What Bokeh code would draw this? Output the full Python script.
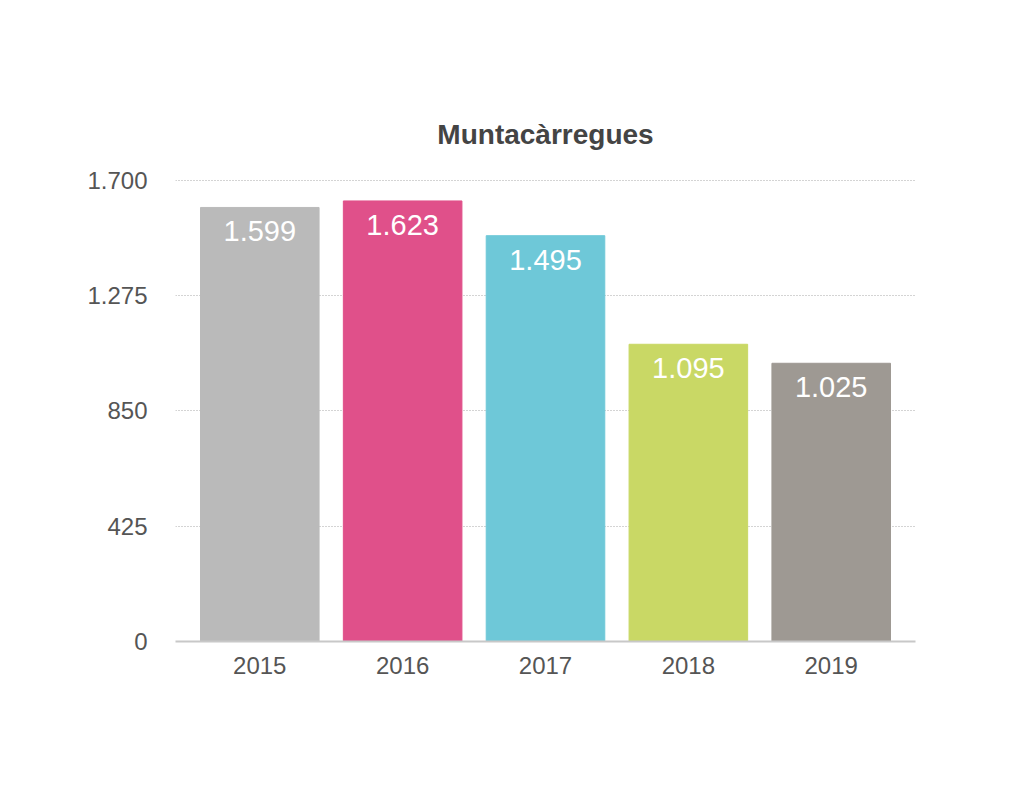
from bokeh.plotting import figure
from bokeh.models import ColumnDataSource, Range1d, FixedTicker
from bokeh.core.properties import value
from bokeh.embed import file_html
from bokeh.resources import INLINE

years = [2015, 2016, 2017, 2018, 2019]
values = [1599, 1623, 1495, 1095, 1025]
labels = ["1.599", "1.623", "1.495", "1.095", "1.025"]
colors = ["#BABABA", "#E0508A", "#6EC8D8", "#C9D865", "#9E9993"]
y_ticks = [0, 425, 850, 1275, 1700]
y_tick_labels = ["0", "425", "850", "1.275", "1.700"]

FONT = "Liberation Sans"

src = ColumnDataSource(dict(x=years, top=values, label=labels, color=colors))

p = figure(width=1016, height=801, output_backend="svg", toolbar_location=None,
           x_range=Range1d(years[0] - 0.59, years[-1] + 0.59),
           y_range=Range1d(0, 1702),
           min_border_left=175, min_border_right=101,
           min_border_top=179, min_border_bottom=160,
           title="Muntacàrregues")

p.vbar(x="x", top="top", bottom=0, width=0.83, color="color", source=src)
p.text(x="x", y="top", text="label", source=src, text_align="center",
       text_baseline="middle", y_offset=24, text_color="white",
       text_font=value(FONT), text_font_size="29px")

p.title.align = "center"
p.title.text_font = FONT
p.title.text_font_size = "28px"
p.title.text_font_style = "bold"
p.title.text_color = "#444444"
p.title.standoff = 60

p.outline_line_color = None
p.background_fill_color = "white"
p.border_fill_color = "white"

p.xgrid.grid_line_color = None
p.ygrid.ticker = FixedTicker(ticks=y_ticks)
p.ygrid.grid_line_color = "#A8A8A8"
p.ygrid.grid_line_dash = "1 2"
p.ygrid.grid_line_width = 1

p.yaxis.ticker = FixedTicker(ticks=y_ticks)
p.yaxis.major_label_overrides = {t: l for t, l in zip(y_ticks, y_tick_labels)}
p.yaxis.axis_line_color = None
p.yaxis.major_tick_line_color = None
p.yaxis.minor_tick_line_color = None
p.yaxis.major_label_standoff = 22
p.yaxis.major_label_text_font = FONT
p.yaxis.major_label_text_font_size = "24px"
p.yaxis.major_label_text_color = "#555555"

p.xaxis.ticker = FixedTicker(ticks=years)
p.xaxis.major_label_overrides = {y: str(y) for y in years}
p.xaxis.axis_line_color = "#C8C8C8"
p.xaxis.axis_line_width = 2
p.xaxis.major_tick_line_color = None
p.xaxis.minor_tick_line_color = None
p.xaxis.major_label_standoff = 9
p.xaxis.major_label_text_font = FONT
p.xaxis.major_label_text_font_size = "24px"
p.xaxis.major_label_text_color = "#555555"

open("out.html", "w").write(file_html(p, INLINE))
